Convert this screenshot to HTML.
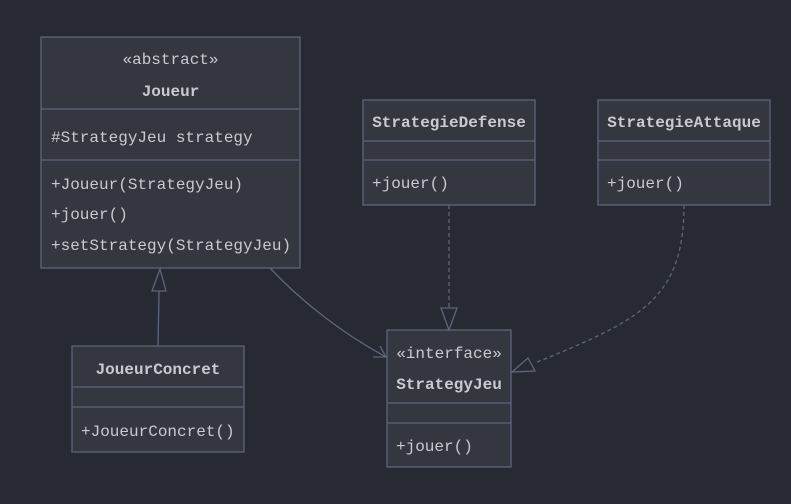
<!DOCTYPE html>
<html><head><meta charset="utf-8"><style>
html,body{margin:0;padding:0;background:#282a33;}
svg{display:block}
text{font-family:"Liberation Mono","DejaVu Sans Mono",monospace;font-size:16px;fill:#c9cbd1;}
.b{font-weight:bold;}
.box{fill:#343640;stroke:#5d6579;stroke-width:1.3;}
.ln{stroke:#5d6579;stroke-width:1.3;fill:none;}
</style></head><body>
<svg width="791" height="504" viewBox="0 0 791 504">
<rect width="791" height="504" fill="#282a33"/>
<rect class="box" x="41" y="37" width="259" height="231"/>
<line class="ln" x1="41" y1="109" x2="300" y2="109"/>
<line class="ln" x1="41" y1="160" x2="300" y2="160"/>
<text x="170.5" y="64" text-anchor="middle">«abstract»</text>
<text x="170.5" y="96" text-anchor="middle" class="b">Joueur</text>
<text x="51" y="142">#StrategyJeu strategy</text>
<text x="51" y="189">+Joueur(StrategyJeu)</text>
<text x="51" y="219">+jouer()</text>
<text x="51" y="250">+setStrategy(StrategyJeu)</text>
<rect class="box" x="363" y="100" width="172" height="105"/>
<line class="ln" x1="363" y1="141" x2="535" y2="141"/>
<line class="ln" x1="363" y1="160" x2="535" y2="160"/>
<text x="449" y="127" text-anchor="middle" class="b">StrategieDefense</text>
<text x="372" y="188">+jouer()</text>
<rect class="box" x="598" y="100" width="172" height="105"/>
<line class="ln" x1="598" y1="141" x2="770" y2="141"/>
<line class="ln" x1="598" y1="160" x2="770" y2="160"/>
<text x="684" y="127" text-anchor="middle" class="b">StrategieAttaque</text>
<text x="607" y="188">+jouer()</text>
<rect class="box" x="387" y="330" width="124" height="137"/>
<line class="ln" x1="387" y1="403" x2="511" y2="403"/>
<line class="ln" x1="387" y1="423" x2="511" y2="423"/>
<text x="449" y="358" text-anchor="middle">«interface»</text>
<text x="449" y="389" text-anchor="middle" class="b">StrategyJeu</text>
<text x="396" y="451">+jouer()</text>
<rect class="box" x="72" y="346" width="172" height="106"/>
<line class="ln" x1="72" y1="387" x2="244" y2="387"/>
<line class="ln" x1="72" y1="407" x2="244" y2="407"/>
<text x="158" y="374" text-anchor="middle" class="b">JoueurConcret</text>
<text x="81" y="436">+JoueurConcret()</text>
<line class="ln" x1="158" y1="346" x2="159" y2="291"/>
<polygon class="ln" points="160,269 152,291 166,291"/>
<path class="ln" d="M270,268 C300,300 340,332 386,357"/>
<path class="ln" d="M373,357 L386,357 L380,346"/>
<line class="ln" x1="449" y1="205" x2="449" y2="308" stroke-dasharray="4,3"/>
<polygon class="ln" points="449,330 441,308 457,308"/>
<path class="ln" d="M684,205 C684,300 640,320 535,363" stroke-dasharray="4,3"/>
<polygon class="ln" points="512,372 528,358 535,371"/>
</svg>
</body></html>
